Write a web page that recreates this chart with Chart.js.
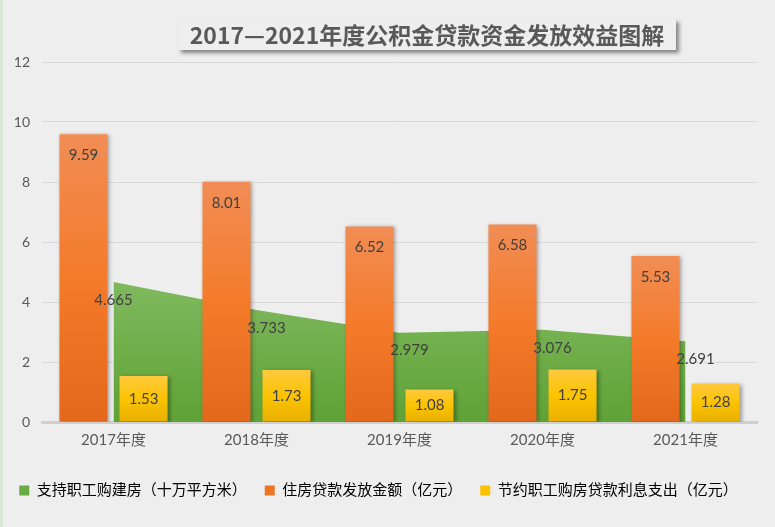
<!DOCTYPE html>
<html>
<head>
<meta charset="utf-8">
<script src="https://cdn.jsdelivr.net/npm/chart.js@4"></script>
<style>
  html, body { margin: 0; padding: 0; background: #eeeeee; }
  #wrap { position: relative; width: 775px; height: 527px; background: #eeeeee; overflow: hidden; }
  #wrap::before { content: ''; position: absolute; left: 0; top: 0; bottom: 0; width: 3px; background: #d6e9d2; }
  #title {
    position: absolute; left: 178px; top: 19px; width: 498px; height: 31px;
    background: #eeeeee; box-shadow: 3px 3px 4px rgba(0,0,0,0.45);
    color: #595959; font: bold 23px 'Noto Sans CJK SC', sans-serif;
    line-height: 31px; text-align: center; z-index: 2; white-space: nowrap;
  }
  canvas { position: absolute; left: 0; top: 0; }
</style>
</head>
<body>
<div id="wrap">
  <div id="title">2017—2021年度公积金贷款资金发放效益图解</div>
  <canvas id="chart" width="775" height="527"></canvas>
</div>
<script>
const years = ['2017年度', '2018年度', '2019年度', '2020年度', '2021年度'];
const housingArea = [4.665, 3.733, 2.979, 3.076, 2.691];
const loanAmount = [9.59, 8.01, 6.52, 6.58, 5.53];
const interestSaved = [1.53, 1.73, 1.08, 1.75, 1.28];
const seriesNames = ['支持职工购建房（十万平方米）', '住房贷款发放金额（亿元）', '节约职工购房贷款利息支出（亿元）'];
const yTicks = [0, 2, 4, 6, 8, 10, 12];

const FONT = "Lato, 'Noto Sans CJK SC', sans-serif";
const solid = ['#6aaa45', '#ee7424', '#fcc100'];

// vertical gradient from a bar's top to the axis
function barGradient(stops) {
  return ctx => {
    const chart = ctx.chart;
    const y = chart.scales.y;
    if (!chart.chartArea || !y || ctx.raw === undefined) return stops[1];
    const top = y.getPixelForValue(ctx.raw);
    const g = chart.ctx.createLinearGradient(0, top, 0, y.getPixelForValue(0));
    g.addColorStop(0, stops[0]);
    g.addColorStop(0.5, stops[1]);
    g.addColorStop(1, stops[2]);
    return g;
  };
}

function areaGradient(ctx) {
  const area = ctx.chart.chartArea;
  if (!area) return solid[0];
  const y = ctx.chart.scales.y;
  const g = ctx.chart.ctx.createLinearGradient(0, y.getPixelForValue(4.7), 0, area.bottom);
  g.addColorStop(0, '#80b95f');
  g.addColorStop(1, '#5fa235');
  return g;
}

const shadowPlugin = {
  id: 'shadow',
  beforeDatasetDraw(chart) {
    const c = chart.ctx;
    c.save();
    c.shadowColor = 'rgba(0,0,0,0.35)';
    c.shadowBlur = 4;
    c.shadowOffsetX = 2;
    c.shadowOffsetY = 1;
  },
  afterDatasetDraw(chart) {
    chart.ctx.restore();
  }
};

const labelPlugin = {
  id: 'valueLabels',
  afterDatasetsDraw(chart) {
    const c = chart.ctx;
    c.save();
    c.font = '15px ' + FONT;
    c.fillStyle = '#404040';
    c.textAlign = 'center';
    c.textBaseline = 'middle';
    chart.data.datasets.forEach((ds, i) => {
      const meta = chart.getDatasetMeta(i);
      meta.data.forEach((el, j) => {
        const v = ds.data[j];
        let x = el.x, y;
        if (i === 0) { y = el.y + 18; if (j > 0) x += 10; }
        else if (i === 1) y = el.y + 21;
        else y = (el.y + el.base) / 2;
        c.fillText(String(v), x, y);
      });
    });
    c.restore();
  }
};

new Chart(document.getElementById('chart'), {
  data: {
    labels: years,
    datasets: [
      {
        type: 'line', label: seriesNames[0], data: housingArea,
        fill: 'origin', backgroundColor: areaGradient, borderWidth: 0,
        pointRadius: 0, tension: 0, order: 3
      },
      {
        type: 'bar', label: seriesNames[1], data: loanAmount,
        backgroundColor: barGradient(['#f18d55', '#f47b2a', '#e4681c']),
        categoryPercentage: 0.84, barPercentage: 0.8, order: 1
      },
      {
        type: 'bar', label: seriesNames[2], data: interestSaved,
        backgroundColor: barGradient(['#ffc93f', '#fbc300', '#e8b000']),
        categoryPercentage: 0.84, barPercentage: 0.8, order: 2
      }
    ]
  },
  options: {
    responsive: false,
    animation: false,
    layout: { padding: { top: 62, right: 18, bottom: 19, left: 0 } },
    plugins: {
      title: { display: false },
      tooltip: { enabled: false },
      legend: {
        position: 'bottom',
        labels: {
          color: '#595959', font: { size: 15, family: FONT },
          boxWidth: 10, boxHeight: 10, padding: 18,
          generateLabels: chart => chart.data.datasets.map((ds, i) => ({
            text: ds.label, fillStyle: solid[i], strokeStyle: solid[i],
            lineWidth: 0, datasetIndex: i, hidden: false
          }))
        }
      }
    },
    scales: {
      x: {
        afterFit: s => { s.height = 43; },
        grid: { display: false },
        border: { display: true, color: '#cfcfcf', width: 3 },
        ticks: { color: '#595959', font: { size: 15, family: FONT }, padding: 1 }
      },
      y: {
        min: 0, max: 12,
        afterFit: s => { s.width = 42; },
        afterBuildTicks: s => { s.ticks = yTicks.map(v => ({ value: v })); },
        grid: { color: '#d9d9d9', drawTicks: false },
        border: { display: false },
        ticks: { color: '#595959', font: { size: 14, family: FONT }, padding: 12 }
      }
    }
  },
  plugins: [shadowPlugin, labelPlugin]
});
</script>
</body>
</html>
